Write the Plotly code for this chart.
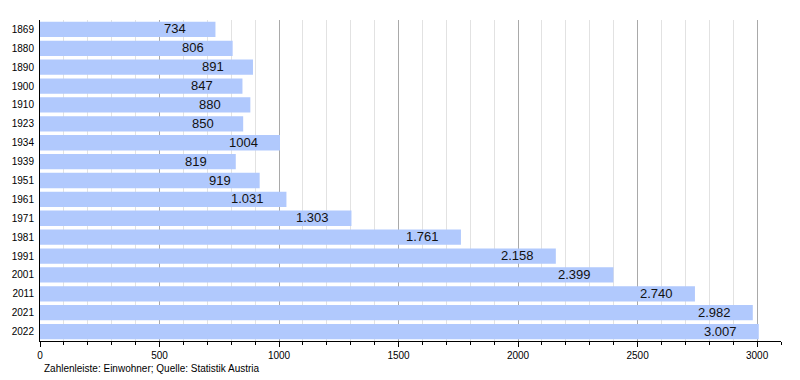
import plotly.graph_objects as go

years = ["1869", "1880", "1890", "1900", "1910", "1923", "1934", "1939", "1951",
         "1961", "1971", "1981", "1991", "2001", "2011", "2021", "2022"]
population = [734, 806, 891, 847, 880, 850, 1004, 819, 919,
              1031, 1303, 1761, 2158, 2399, 2740, 2982, 3007]
value_labels = ["734", "806", "891", "847", "880", "850", "1004", "819", "919",
                "1.031", "1.303", "1.761", "2.158", "2.399", "2.740", "2.982", "3.007"]
x_ticks = [0, 500, 1000, 1500, 2000, 2500, 3000]
footnote = "Zahlenleiste: Einwohner; Quelle: Statistik Austria"

FONT = "Liberation Sans, Arial, sans-serif"
BAR_COLOR = "#b1c9fd"

fig = go.Figure()
fig.add_trace(go.Bar(
    x=population, y=years, orientation="h",
    marker=dict(color=BAR_COLOR, line=dict(width=0)),
    hoverinfo="x+y",
))

for i, (v, t) in enumerate(zip(population, value_labels)):
    shift = -27 if len(t) <= 3 else -20
    fig.add_annotation(x=v, y=i, xref="x", yref="y", text=t, showarrow=False,
                       xanchor="right", yanchor="middle", xshift=shift, yshift=0.5,
                       font=dict(family=FONT, size=13, color="#111"))

fig.add_annotation(x=0, y=-0.087, xref="paper", yref="paper", text=footnote,
                   showarrow=False, xanchor="left", yanchor="middle", xshift=2,
                   font=dict(family=FONT, size=10, color="#000"))

# the page body adds an 8px offset; compensate in size and margins
fig.update_layout(
    width=792, height=372,
    margin=dict(l=32, r=19, t=12, b=39, autoexpand=False),
    plot_bgcolor="white", paper_bgcolor="white",
    bargap=0.19,
    showlegend=False,
    font=dict(family=FONT, size=10, color="#000"),
    xaxis=dict(
        range=[0, 3100], tickvals=x_ticks, ticktext=[str(v) for v in x_ticks],
        ticks="outside", ticklen=5, tickcolor="#000", tickwidth=1,
        showline=True, linecolor="#000", linewidth=1,
        showgrid=True, gridcolor="#a9a9a9", gridwidth=1, zeroline=False,
        tickfont=dict(family=FONT, size=10, color="#000"),
        minor=dict(dtick=100, tick0=0, ticks="outside", ticklen=3,
                   tickcolor="#000", showgrid=True, gridcolor="#e2e2e2",
                   gridwidth=1),
        automargin=False,
        fixedrange=True,
    ),
    yaxis=dict(
        type="category", categoryorder="array", categoryarray=years,
        range=[16.5, -0.5],
        showline=True, linecolor="#000", linewidth=1,
        ticks="outside", ticklen=3, tickcolor="rgba(0,0,0,0)",
        showgrid=False, zeroline=False,
        tickfont=dict(family=FONT, size=10, color="#000"),
        automargin=False,
        fixedrange=True,
    ),
)

fig.write_html("out.html")
